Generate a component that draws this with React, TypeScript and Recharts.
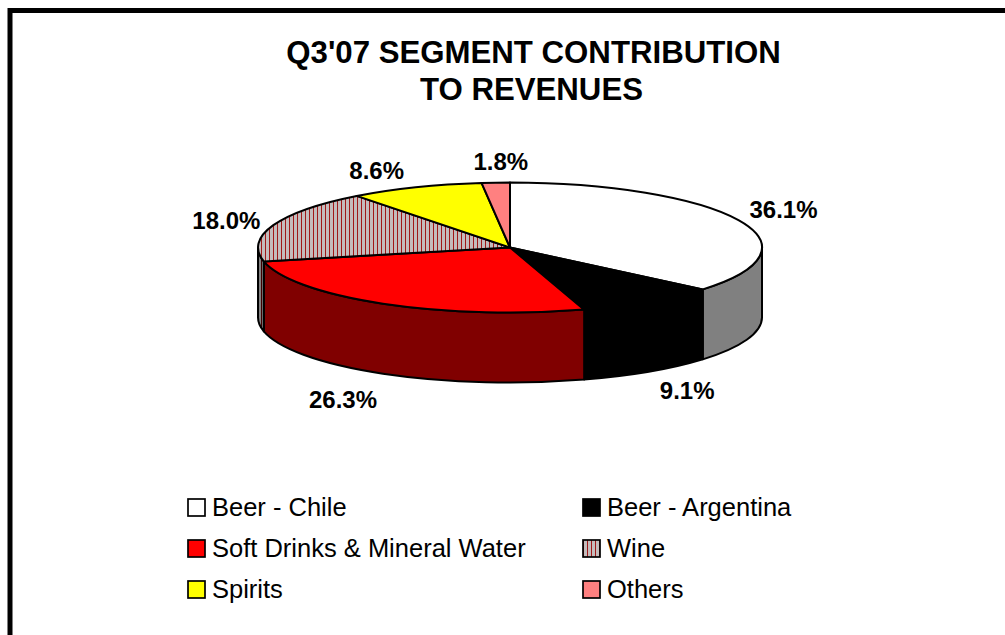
import { Legend, Pie, PieChart } from 'recharts';

const segments = ['Beer - Chile', 'Beer - Argentina', 'Soft Drinks & Mineral Water', 'Wine', 'Spirits', 'Others'];
const shares = [36.1, 9.1, 26.3, 18.0, 8.6, 1.8];
const topColors = ['#ffffff', '#000000', '#ff0000', 'url(#wineTop)', '#ffff00', '#ff8080'];
const sideColors = ['#808080', '#000000', '#800000', 'url(#wineSide)', '#808000', '#804040'];
// nudges from the pie rim to each percentage label
const labelNudges = [[45, -11], [38, 89], [-40, 96], [-47, -5], [-39, -17], [5, -21]];

const font = '"Liberation Sans", Arial, sans-serif';
const CX = 510;
const CY = 247.5;
const RX = 252;
const RY = 65;
const DEPTH = 70;

const pieData = segments.map((name, i) => ({
  name,
  value: shares[i],
  fill: topColors[i],
  side: sideColors[i],
}));

const rim = (cx: number, cy: number, rx: number, deg: number) => {
  const a = (deg * Math.PI) / 180;
  return { x: cx + rx * Math.cos(a), y: cy - (rx * RY * Math.sin(a)) / RX };
};

function TopSlice(props: any) {
  const { cx, cy, outerRadius, startAngle, endAngle, fill } = props;
  const p0 = rim(cx, cy, outerRadius, startAngle);
  const p1 = rim(cx, cy, outerRadius, endAngle);
  const ry = (outerRadius * RY) / RX;
  const large = Math.abs(startAngle - endAngle) > 180 ? 1 : 0;
  const d = `M${cx},${cy} L${p0.x},${p0.y} A${outerRadius},${ry} 0 ${large} 1 ${p1.x},${p1.y} Z`;
  return <path d={d} fill={fill} stroke="#000" strokeWidth={2} strokeLinejoin="round" />;
}

// wall of the slice, only the part on the front half of the ellipse shows
function SideSlice(props: any) {
  const { cx, cy, outerRadius, startAngle, endAngle, side } = props;
  const from = Math.min(startAngle, 0);
  const to = Math.max(endAngle, -180);
  if (from <= to) return <g />;
  const p0 = rim(cx, cy, outerRadius, from);
  const p1 = rim(cx, cy, outerRadius, to);
  const ry = (outerRadius * RY) / RX;
  const d =
    `M${p0.x},${p0.y} A${outerRadius},${ry} 0 0 1 ${p1.x},${p1.y} ` +
    `L${p1.x},${p1.y + DEPTH} A${outerRadius},${ry} 0 0 0 ${p0.x},${p0.y + DEPTH} Z`;
  return <path d={d} fill={side} stroke="#000" strokeWidth={2} strokeLinejoin="round" />;
}

function ShareLabel(props: any) {
  const { cx, cy, outerRadius, midAngle, index, value } = props;
  const p = rim(cx, cy, outerRadius, midAngle);
  const [dx, dy] = labelNudges[index];
  return (
    <text
      x={p.x + dx}
      y={p.y + dy}
      textAnchor="middle"
      dominantBaseline="central"
      fontFamily={font}
      fontWeight="bold"
      fontSize={24}
      fill="#000"
    >
      {`${Number(value).toFixed(1)}%`}
    </text>
  );
}

function LegendGrid() {
  return (
    <div
      style={{
        display: 'grid',
        gridTemplateColumns: '395px 300px',
        gridAutoRows: '41px',
        fontFamily: font,
        fontSize: 25.5,
        color: '#000',
      }}
    >
      {pieData.map((d) => (
        <div key={d.name} style={{ display: 'flex', alignItems: 'center', whiteSpace: 'nowrap' }}>
          <svg width={19} height={19} style={{ marginRight: 6, flex: 'none' }}>
            <rect x={1} y={1} width={17} height={17} fill={d.fill} stroke="#000" strokeWidth={1.7} />
          </svg>
          {d.name}
        </div>
      ))}
    </div>
  );
}

export default function App() {
  return (
    <div
      style={{
        position: 'fixed',
        left: 0,
        top: 0,
        width: 1005,
        height: 635,
        background: '#fff',
        overflow: 'hidden',
      }}
    >
      <PieChart width={1005} height={635} margin={{ top: 0, right: 0, bottom: 0, left: 0 }}>
        <defs>
          <pattern id="wineTop" patternUnits="userSpaceOnUse" width={4} height={4}>
            <rect width={4} height={4} fill="#c4bcbc" />
            <rect x={1} width={1} height={4} fill="#a01818" />
          </pattern>
          <pattern id="wineSide" patternUnits="userSpaceOnUse" width={4} height={4}>
            <rect width={4} height={4} fill="#808080" />
            <rect x={1} width={1} height={4} fill="#400000" />
          </pattern>
        </defs>
        <rect x={10} y={10.5} width={1100} height={800} fill="none" stroke="#000" strokeWidth={5} />
        <text x={533.5} y={63} textAnchor="middle" fontFamily={font} fontWeight="bold" fontSize={31.2} fill="#000">
          Q3'07 SEGMENT CONTRIBUTION
        </text>
        <text x={531.5} y={100} textAnchor="middle" fontFamily={font} fontWeight="bold" fontSize={31.2} fill="#000">
          TO REVENUES
        </text>
        <Pie
          data={pieData}
          dataKey="value"
          nameKey="name"
          cx={CX}
          cy={CY}
          outerRadius={RX}
          startAngle={90}
          endAngle={-270}
          legendType="none"
          shape={SideSlice}
          isAnimationActive={false}
        />
        <Pie
          data={pieData}
          dataKey="value"
          nameKey="name"
          cx={CX}
          cy={CY}
          outerRadius={RX}
          startAngle={90}
          endAngle={-270}
          shape={TopSlice}
          label={ShareLabel}
          labelLine={false}
          isAnimationActive={false}
        />
        <Legend
          content={LegendGrid}
          wrapperStyle={{ position: 'absolute', left: 187, top: 487, width: 700, height: 125 }}
        />
      </PieChart>
    </div>
  );
}
